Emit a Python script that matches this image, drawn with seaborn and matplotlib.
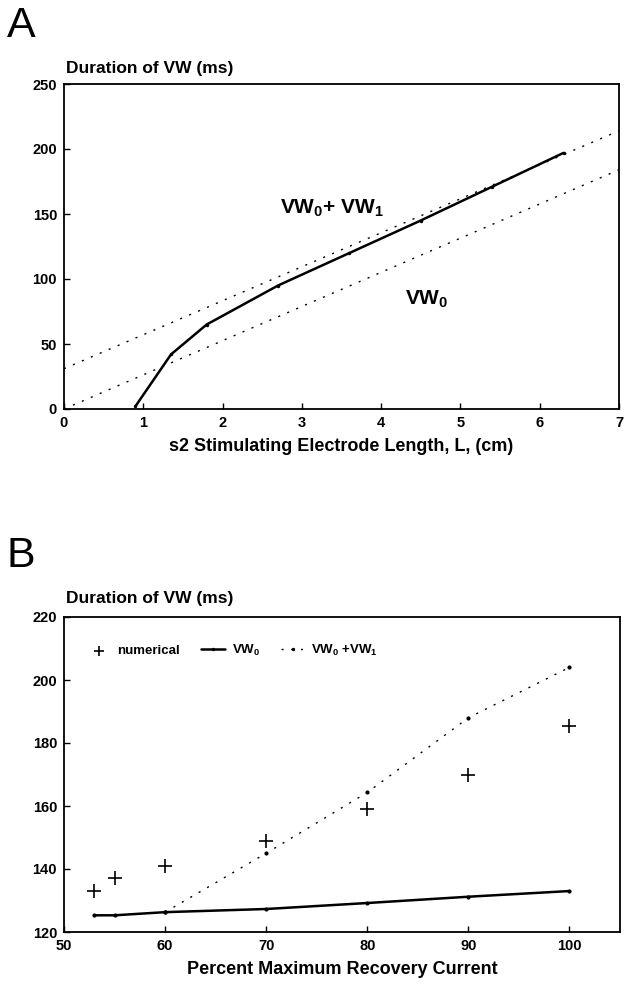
import pandas as pd
import matplotlib
matplotlib.use("Agg")
import matplotlib.pyplot as plt
import seaborn as sns

# -------------------------------------------------------
# Datos panel A
# -------------------------------------------------------
a_L = [0.9, 1.35, 1.8, 2.7, 3.6, 4.5, 5.4, 6.3]
a_vw = [2, 42, 65, 95, 120, 145, 171, 197]
a_vw01_L = [0, 7]
a_vw01 = [31, 214]
a_vw0_L = [0, 7]
a_vw0 = [0, 184]

# -------------------------------------------------------
# Datos panel B
# -------------------------------------------------------
b_pct_num = [53, 55, 60, 70, 80, 90, 100]
b_num = [133, 137, 141, 149, 159, 170, 185.5]
b_pct_vw0 = [53, 55, 60, 70, 80, 90, 100]
b_vw0 = [125.3, 125.3, 126.3, 127.3, 129.2, 131.2, 133]
b_pct_vw01 = [60, 70, 80, 90, 100]
b_vw01 = [126.3, 145, 164.3, 188, 204]

sns.set_style("ticks")
plt.rcParams["font.family"] = ["Liberation Sans", "DejaVu Sans"]
plt.rcParams["mathtext.fontset"] = "custom"
plt.rcParams["mathtext.rm"] = "Liberation Sans:bold"
plt.rcParams["mathtext.it"] = "Liberation Sans:bold"
plt.rcParams["mathtext.bf"] = "Liberation Sans:bold"
for k in ("text.color", "axes.labelcolor", "xtick.color", "ytick.color",
          "axes.edgecolor"):
    plt.rcParams[k] = "black"

dots = (0, (1.5, 5.5))

fig = plt.figure(figsize=(6.24, 9.92), dpi=100)
axA = fig.add_axes([64/624, 1-409/992, 555/624, 325/992])
axB = fig.add_axes([64/624, 1-932/992, 556/624, 315/992])

# ---------------- panel A ----------------
sns.lineplot(x=a_vw01_L, y=a_vw01, ax=axA, color="black", lw=1.0,
             linestyle=dots)
sns.lineplot(x=a_vw0_L, y=a_vw0, ax=axA, color="black", lw=1.0,
             linestyle=dots)
sns.lineplot(x=a_L, y=a_vw, ax=axA, color="black", lw=1.8,
             marker="o", markersize=2.5, markeredgewidth=0)
axA.set_xlim(0, 7)
axA.set_ylim(0, 250)
axA.set_xticks(range(0, 8))
axA.set_yticks(range(0, 251, 50))
axA.text(2.72, 150, "VW$_0$+ VW$_1$", fontsize=15, fontweight="bold")
axA.text(4.3, 80, "VW$_0$", fontsize=15, fontweight="bold")
axA.set_xlabel("s2 Stimulating Electrode Length, L, (cm)", fontsize=13,
               fontweight="bold", labelpad=6)
axA.set_ylabel("")
fig.text(66/624, 1-68/992, "Duration of VW (ms)", fontsize=12.5,
         fontweight="bold", va="center")
fig.text(7/624, 1-26/992, "A", fontsize=31, va="center")

# ---------------- panel B ----------------
sns.lineplot(x=b_pct_vw01, y=b_vw01, ax=axB, color="black", lw=1.0,
             linestyle=dots, marker="o", markersize=3,
             markeredgewidth=0, label="VW$_0$ +VW$_1$")
sns.lineplot(x=b_pct_vw0, y=b_vw0, ax=axB, color="black", lw=1.8,
             marker="o", markersize=3, markeredgewidth=0, label="VW$_0$")
sns.scatterplot(x=b_pct_num, y=b_num, ax=axB, color="black", marker="+",
                s=90, linewidth=1.2, label="numerical")
axB.set_xlim(50, 105)
axB.set_ylim(120, 220)
axB.set_xticks(range(50, 101, 10))
axB.set_yticks(range(120, 221, 20))
h, l = axB.get_legend_handles_labels()
leg = axB.legend([h[2], h[1], h[0]], [l[2], l[1], l[0]], ncol=3,
                 frameon=False, loc="upper left",
                 bbox_to_anchor=(0.02, 0.955), handlelength=1.8,
                 columnspacing=1.6, handletextpad=0.5, markerscale=0.8,
                 prop={"weight": "bold", "size": 9.5})
axB.set_xlabel("Percent Maximum Recovery Current", fontsize=13,
               fontweight="bold", labelpad=6)
axB.set_ylabel("")
fig.text(66/624, 1-598/992, "Duration of VW (ms)", fontsize=12.5,
         fontweight="bold", va="center")
fig.text(7/624, 1-556/992, "B", fontsize=31, va="center")

for ax in (axA, axB):
    for s in ax.spines.values():
        s.set_visible(True)
        s.set_linewidth(1.3)
    ax.tick_params(direction="in", length=4, width=1, labelsize=10.5, pad=5)
    for t in ax.get_xticklabels() + ax.get_yticklabels():
        t.set_fontweight("bold")

fig.savefig("out.png", dpi=100)
